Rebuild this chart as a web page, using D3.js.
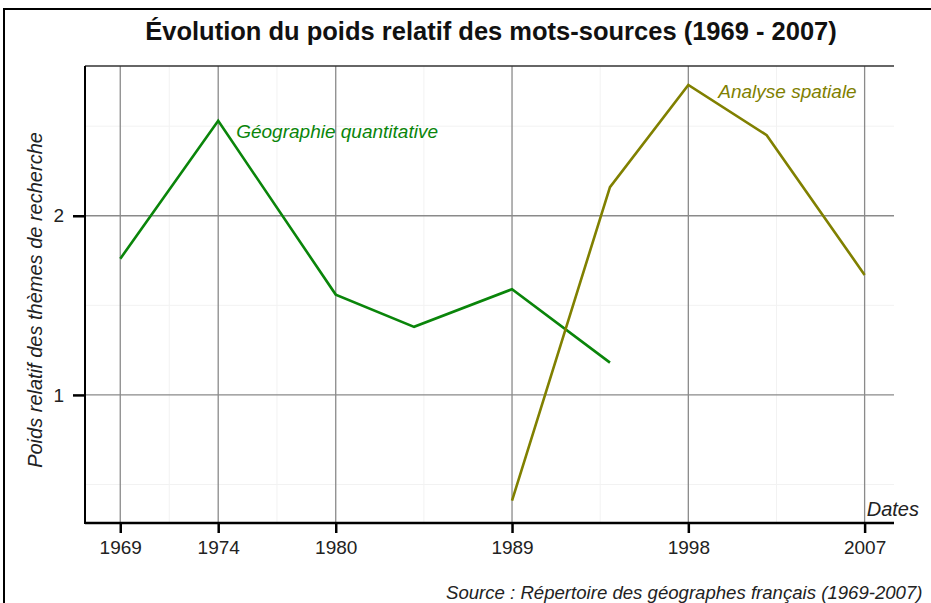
<!DOCTYPE html>
<html>
<head>
<meta charset="utf-8">
<script src="https://cdn.jsdelivr.net/npm/d3@7"></script>
<style>
  body { margin: 0; background: #fff; }
  svg { font-family: "Liberation Sans", Arial, sans-serif; }
</style>
</head>
<body>
<div id="chart"></div>
<script>
// Data
const yearsGeo = [1969, 1974, 1980, 1984, 1989, 1994];
const valuesGeo = [1.76, 2.53, 1.56, 1.38, 1.59, 1.18];
const yearsSpatial = [1989, 1994, 1998, 2002, 2007];
const valuesSpatial = [0.41, 2.16, 2.73, 2.45, 1.67];
const xTicks = [1969, 1974, 1980, 1989, 1998, 2007];
const xMinor = [1971.5, 1977, 1984.5, 1993.5, 2002.5];
const yTicks = [1, 2];
const yMinor = [0.5, 1.5, 2.5];

const w = 931, h = 603;
const margin = { left: 85, right: 37, top: 66, bottom: 80 };

const svg = d3.select("#chart").append("svg")
  .attr("width", w)
  .attr("height", h);

// outer frame (only top and left visible in the crop)
svg.append("path")
  .attr("d", `M4,${h} V9 H${w}`)
  .attr("fill", "none")
  .attr("stroke", "#000")
  .attr("stroke-width", 2);

const x = d3.scaleLinear()
  .domain([1967.2, 2008.5])
  .range([margin.left, w - margin.right]);

const y = d3.scaleLinear()
  .domain([0.285, 2.836])
  .range([h - margin.bottom, margin.top]);

const x0 = margin.left, x1 = w - margin.right;
const y0 = h - margin.bottom, y1 = margin.top;

// minor grid
svg.append("g").selectAll("line.vminor")
  .data(xMinor).enter().append("line")
  .attr("x1", d => x(d)).attr("x2", d => x(d))
  .attr("y1", y0).attr("y2", y1)
  .attr("stroke", "#f2f2f2").attr("stroke-width", 1);
svg.append("g").selectAll("line.hminor")
  .data(yMinor).enter().append("line")
  .attr("x1", x0).attr("x2", x1)
  .attr("y1", d => y(d)).attr("y2", d => y(d))
  .attr("stroke", "#f2f2f2").attr("stroke-width", 1);

// major grid
svg.append("g").selectAll("line.vmajor")
  .data(xTicks).enter().append("line")
  .attr("x1", d => x(d)).attr("x2", d => x(d))
  .attr("y1", y0).attr("y2", y1)
  .attr("stroke", "#8a8a8a").attr("stroke-width", 1.3);
svg.append("g").selectAll("line.hmajor")
  .data(yTicks).enter().append("line")
  .attr("x1", x0).attr("x2", x1)
  .attr("y1", d => y(d)).attr("y2", d => y(d))
  .attr("stroke", "#8a8a8a").attr("stroke-width", 1.3);

// top border of the panel
svg.append("line")
  .attr("x1", x0).attr("x2", x1)
  .attr("y1", y1).attr("y2", y1)
  .attr("stroke", "#333").attr("stroke-width", 1.6);

// lines
const line = d3.line().x(d => x(d[0])).y(d => y(d[1]));
const geo = d3.zip(yearsGeo, valuesGeo);
const spatial = d3.zip(yearsSpatial, valuesSpatial);

svg.append("path")
  .datum(geo)
  .attr("d", line)
  .attr("fill", "none")
  .attr("stroke", "#0a850a")
  .attr("stroke-width", 2.6);

svg.append("path")
  .datum(spatial)
  .attr("d", line)
  .attr("fill", "none")
  .attr("stroke", "#808000")
  .attr("stroke-width", 2.6);

// axes
const xAxis = svg.append("g")
  .attr("transform", `translate(0,${y0})`)
  .call(d3.axisBottom(x).tickValues(xTicks).tickFormat(d3.format("d")).tickSize(10).tickPadding(8));
xAxis.select(".domain").remove();
xAxis.append("line")
  .attr("x1", x0).attr("x2", x1)
  .attr("stroke", "#000").attr("stroke-width", 2.5);
xAxis.selectAll(".tick line").attr("stroke", "#000").attr("stroke-width", 2.5);
xAxis.selectAll(".tick text")
  .attr("fill", "#222")
  .style("font-size", "19px")
  .style("font-family", "Liberation Sans, Arial, sans-serif");

const yAxis = svg.append("g")
  .attr("transform", `translate(${x0},0)`)
  .call(d3.axisLeft(y).tickValues(yTicks).tickFormat(d3.format("d")).tickSize(12).tickPadding(9));
yAxis.select(".domain").remove();
yAxis.append("line")
  .attr("y1", y0 + 1).attr("y2", y1)
  .attr("stroke", "#000").attr("stroke-width", 2);
yAxis.selectAll(".tick line").attr("stroke", "#000").attr("stroke-width", 2.5);
yAxis.selectAll(".tick text")
  .attr("fill", "#222")
  .style("font-size", "19px")
  .style("font-family", "Liberation Sans, Arial, sans-serif");

// title
svg.append("text")
  .attr("x", 491)
  .attr("y", 40)
  .attr("text-anchor", "middle")
  .style("font-size", "25.5px")
  .style("font-weight", "bold")
  .attr("fill", "#111")
  .text("Évolution du poids relatif des mots-sources (1969 - 2007)");

// y axis title
svg.append("text")
  .attr("transform", `translate(42,300) rotate(-90)`)
  .attr("text-anchor", "middle")
  .style("font-size", "20px")
  .style("font-style", "italic")
  .attr("fill", "#222")
  .text("Poids relatif des thèmes de recherche");

// x axis title
svg.append("text")
  .attr("x", 919)
  .attr("y", 516)
  .attr("text-anchor", "end")
  .style("font-size", "20px")
  .style("font-style", "italic")
  .attr("fill", "#222")
  .text("Dates");

// series labels
svg.append("text")
  .attr("x", x(1974) + 18)
  .attr("y", y(2.53) + 17)
  .style("font-size", "19px")
  .style("font-style", "italic")
  .attr("fill", "#0a850a")
  .text("Géographie quantitative");

svg.append("text")
  .attr("x", x(1998) + 30)
  .attr("y", y(2.73) + 13)
  .style("font-size", "19px")
  .style("font-style", "italic")
  .attr("fill", "#808000")
  .text("Analyse spatiale");

// source
svg.append("text")
  .attr("x", 446)
  .attr("y", 599)
  .style("font-size", "18.6px")
  .style("font-style", "italic")
  .attr("fill", "#222")
  .text("Source : Répertoire des géographes français (1969-2007)");
</script>
</body>
</html>
